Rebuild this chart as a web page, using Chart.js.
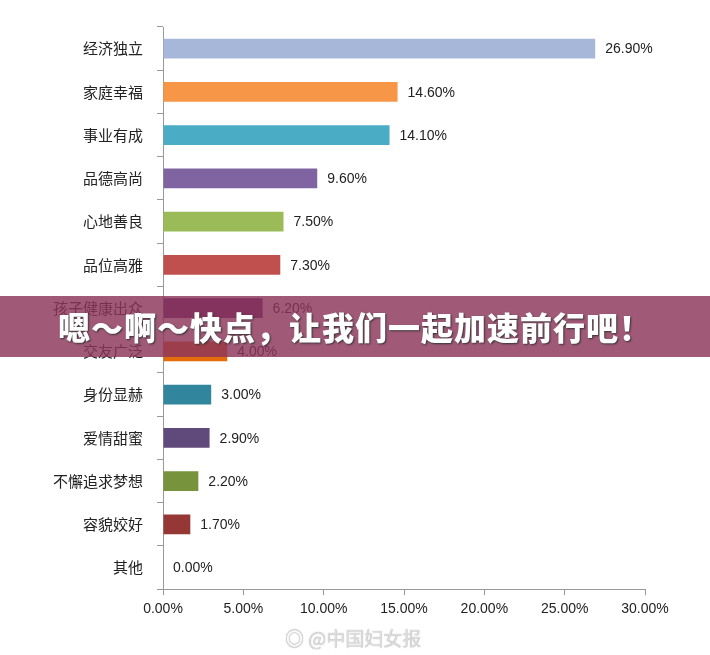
<!DOCTYPE html>
<html><head><meta charset="utf-8">
<script src="https://cdn.jsdelivr.net/npm/chart.js@4"></script>
<style>
body{margin:0;background:#fff;width:710px;height:655px;overflow:hidden;position:relative;font-family:"Noto Sans CJK SC",sans-serif}
#wrap{position:absolute;left:0;top:0;width:710px;height:655px}
#banner{position:absolute;left:0;top:296px;width:710px;height:61px;background:rgba(140,52,90,0.82);color:#fff;font-weight:900;font-size:32px;line-height:61px;text-align:center;text-shadow:1px 1px 2px #333;letter-spacing:1px}
#wm{position:absolute;left:285px;top:624px;color:#ddd;font-size:19px;text-shadow:0 0 1px #999}
</style></head><body>
<div id="wrap"><canvas id="c" width="710" height="655"></canvas></div>
<div id="banner">嗯～啊～快点，让我们一起加速前行吧！</div>
<div id="wm">◎ @中国妇女报</div>
<script>
const categories=["经济独立","家庭幸福","事业有成","品德高尚","心地善良","品位高雅","孩子健康出众","交友广泛","身份显赫","爱情甜蜜","不懈追求梦想","容貌姣好","其他"];
const values=[26.9,14.6,14.1,9.6,7.5,7.3,6.2,4.0,3.0,2.9,2.2,1.7,0.0];
const colors=["#a7b7da","#f79646","#4bacc6","#8064a2","#9bbb59","#c0504d","#5e2d6e","#e46c0a","#31859c","#604a7b","#77933c","#953735","#333"];
const valueLabels={id:'vl',afterDatasetsDraw(ch){const ctx=ch.ctx;const m=ch.getDatasetMeta(0);ctx.save();ctx.font='14px "Liberation Sans",Arial';ctx.fillStyle='#222';ctx.textBaseline='middle';m.data.forEach((b,i)=>{ctx.fillText(values[i].toFixed(2)+'%',b.x+10,b.y+1);});ctx.restore();}};
new Chart(document.getElementById('c'),{type:'bar',
data:{labels:categories,datasets:[{data:values,backgroundColor:colors,barPercentage:0.46,categoryPercentage:1}]},
plugins:[valueLabels],
options:{indexAxis:'y',responsive:false,animation:false,
layout:{padding:{top:27,right:65,bottom:31,left:0}},
plugins:{legend:{display:false},tooltip:{enabled:false}},
scales:{
x:{min:0,max:30,ticks:{stepSize:5,color:'#222',font:{size:14,family:'"Liberation Sans",Arial'},callback:v=>v.toFixed(2)+'%',padding:6},grid:{display:true,drawOnChartArea:false,tickLength:6,color:'#999'},border:{color:'#999'}},
y:{afterFit(a){a.width=163;},ticks:{color:'#222',font:{size:15,family:'"Noto Sans CJK SC"'},padding:14},grid:{display:true,drawOnChartArea:false,offset:true,tickLength:6,color:'#999'},border:{color:'#999'}}
}}},
);
</script>
</body></html>
